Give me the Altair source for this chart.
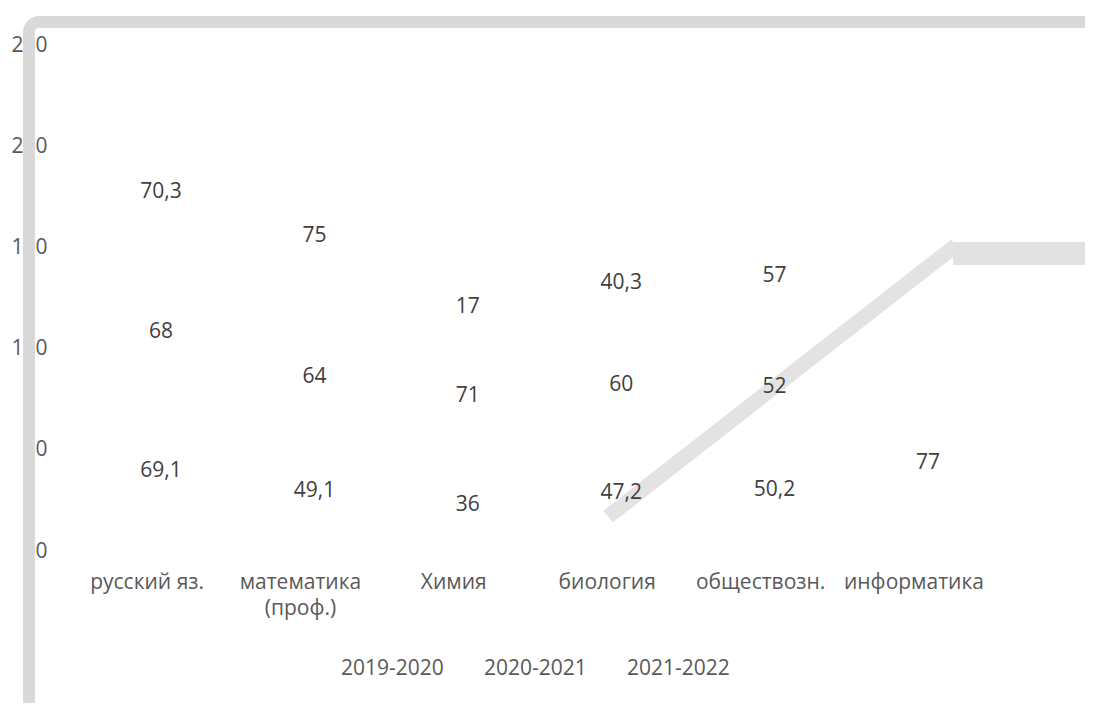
import altair as alt
import pandas as pd

# ---- data ----
categories = ["русский яз.", "математика\n(проф.)", "Химия", "биология", "обществозн.", "информатика"]
series = ["2019-2020", "2020-2021", "2021-2022"]
v_2019_2020 = [69.1, 49.1, 36, 47.2, 50.2, 77]
v_2020_2021 = [68, 64, 71, 60, 52, None]
v_2021_2022 = [70.3, 75, 17, 40.3, 57, None]
y_ticks = [0, 50, 100, 150, 200, 250]

rows = []
for si, (s, vals) in enumerate(zip(series, [v_2019_2020, v_2020_2021, v_2021_2022])):
    for c, v in zip(categories, vals):
        if v is not None:
            rows.append({"subject": c, "year": s, "order": si, "value": v})
df = pd.DataFrame(rows)

# decorative shapes of the reference picture (pixel positions relative to plot area)
deco_frame = pd.DataFrame({"k": [0]})
deco_diag = pd.DataFrame({"px": [566, 902], "py": [467, 205]})
deco_bar = pd.DataFrame({"px": [905], "px2": [1200], "py": [197], "py2": [220]})

FONT = "Open Sans"
W, H = 993, 506

xscale = alt.Scale(domain=categories, paddingInner=0, paddingOuter=0.237)
yscale = alt.Scale(domain=[0, 250], nice=False)

base = alt.Chart(df).transform_stack(
    stack="value", groupby=["subject"], as_=["v0", "v1"],
    sort=[alt.SortField("order", order="ascending")]
).transform_calculate(
    mid="(datum.v0 + datum.v1) / 2",
    lbl="replace(toString(datum.value), '.', ',')"
)

bars = base.mark_bar(fill="white", strokeWidth=0).encode(
    x=alt.X("subject:N", scale=xscale, sort=categories, title=None,
            axis=alt.Axis(labelExpr="split(datum.label, '\\n')", labelAngle=0,
                          labelFont=FONT, labelFontSize=21, labelColor="#595959",
                          labelPadding=20, labelLineHeight=26, labelOffset=-14,
                          ticks=False, domain=False, labelLimit=300)),
    y=alt.Y("v0:Q", scale=yscale, title=None,
            axis=alt.Axis(values=y_ticks, grid=False, domain=False, ticks=False,
                          labelFont=FONT, labelFontSize=21, labelColor="#595959",
                          labelPadding=1)),
    y2="v1:Q",
)

frame = alt.Chart(deco_frame).mark_rect(
    fill=None, stroke="#d9d9d9", strokeWidth=12, cornerRadius=10
).encode(
    x=alt.value(-19), x2=alt.value(3000), y=alt.value(-23), y2=alt.value(3000)
)

diag = alt.Chart(deco_diag).mark_line(
    color="#e3e3e3", strokeWidth=15, strokeCap="square"
).encode(
    x=alt.X("px:Q", scale=None), y=alt.Y("py:Q", scale=None)
)

hbar = alt.Chart(deco_bar).mark_rect(color="#e2e2e2").encode(
    x=alt.X("px:Q", scale=None), x2="px2:Q",
    y=alt.Y("py:Q", scale=None), y2="py2:Q"
)

labels = base.mark_text(
    font=FONT, fontSize=21, color="#404040", baseline="middle", align="center", dy=-10
).encode(
    x=alt.X("subject:N", scale=xscale, sort=categories),
    y=alt.Y("mid:Q", scale=yscale),
    text="lbl:N",
    detail="year:N",
)

legend_layer = base.mark_point(opacity=0).encode(
    x=alt.X("subject:N", scale=xscale, sort=categories),
    y=alt.Y("mid:Q", scale=yscale),
    color=alt.Color("year:N", scale=alt.Scale(domain=series, range=["#ffffff"] * 3),
                    legend=alt.Legend(orient="none", legendX=272, legendY=613,
                                      direction="horizontal", title=None,
                                      symbolOpacity=0, symbolSize=1, symbolStrokeWidth=0,
                                      labelOffset=0, columnPadding=19, padding=0,
                                      labelFont=FONT, labelFontSize=21,
                                      labelColor="#595959", labelLimit=300)),
)

chart = alt.layer(bars, frame, diag, hbar, labels, legend_layer).properties(
    width=W, height=H,
    background="white",
    autosize=alt.AutoSizeParams(type="none"),
    padding={"left": 40, "top": 37, "right": 44, "bottom": 152},
).configure_view(stroke=None, strokeWidth=0)

chart.save("out.html", embed_options={"renderer": "svg", "actions": False})
